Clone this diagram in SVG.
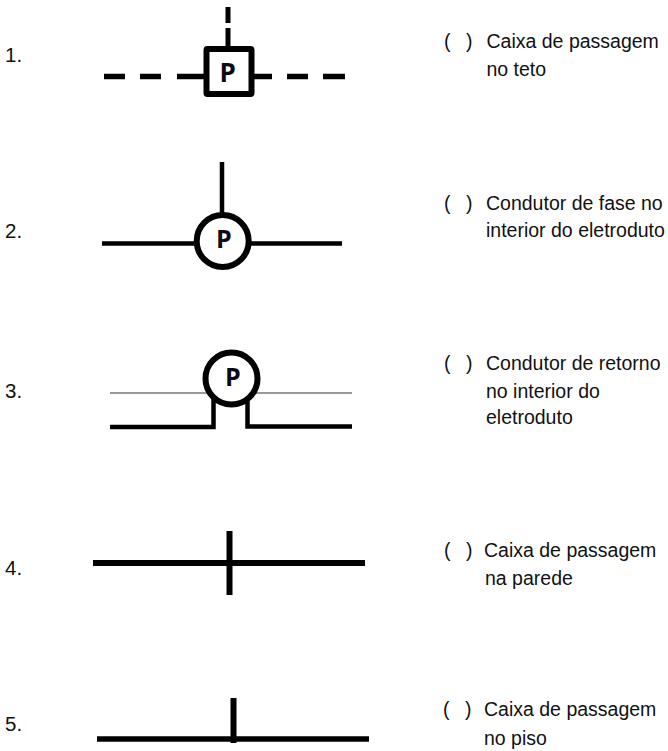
<svg xmlns="http://www.w3.org/2000/svg" width="668" height="751" viewBox="0 0 668 751">
<style>
.t{font-family:"Liberation Sans",Arial,sans-serif;font-size:19.500px;fill:#111}
.n{font-family:"Liberation Sans",Arial,sans-serif;font-size:20.500px;fill:#111}
.p{font-family:"Open Sans","Noto Sans",sans-serif;font-weight:700;fill:#0a0a14}
.l{stroke:#000;fill:none;stroke-width:4.5}
.b{fill:#fff;stroke:#000;stroke-width:6}
</style>
<rect width="668" height="751" fill="#fff"/>
<g id="connectors">
<path class="l" style="stroke-width:5.5" d="M104 76.500H125M140 76.500H161M177 76.500H204M250 76.500H272M287 76.500H308M323 76.500H345"/>
<path class="l" style="stroke-width:5" d="M228 7V23M228 28V46"/>
<path class="l" d="M102 243.500H342M222 162V214"/>
<path d="M110 393H352" stroke="#999" stroke-width="2" fill="none"/>
<path class="l" d="M110 427H213.500V398M247.500 398V426.500H352"/>
<path class="l" style="stroke-width:6" d="M93 563H365M229.500 531V595"/>
<path class="l" style="stroke-width:5.500" d="M97 739H369"/>
<path class="l" style="stroke-width:6" d="M233.500 698V743"/>
</g>
<g id="node1"><text class="n" x="5" y="62">1.</text><rect class="b" x="206.500" y="49" width="45" height="45" rx="1"/><text class="p" x="219.500" y="82" font-size="26">P</text></g>
<g id="node2"><text class="n" x="5" y="238">2.</text><circle class="b" cx="222.700" cy="241" r="26"/><text class="p" x="216" y="248" font-size="25">P</text></g>
<g id="node3"><text class="n" x="5" y="398">3.</text><circle class="b" cx="231.500" cy="378.500" r="26"/><text class="p" x="225" y="386" font-size="25">P</text></g>
<g id="node4"><text class="n" x="5" y="575">4.</text></g>
<g id="node5"><text class="n" x="5" y="731">5.</text></g>
<g id="labels">
<text class="t"><tspan x="444" y="48">(</tspan><tspan x="466" y="48">)</tspan><tspan x="486.500" y="48">Caixa de passagem</tspan><tspan x="486.500" y="76">no teto</tspan></text>
<text class="t"><tspan x="444" y="210">(</tspan><tspan x="466" y="210">)</tspan><tspan x="486" y="210">Condutor de fase no</tspan><tspan x="486" y="237">interior do eletroduto</tspan></text>
<text class="t"><tspan x="444" y="370">(</tspan><tspan x="466" y="370">)</tspan><tspan x="486" y="370">Condutor de retorno</tspan><tspan x="486" y="398">no interior do</tspan><tspan x="486" y="424">eletroduto</tspan></text>
<text class="t"><tspan x="444" y="557">(</tspan><tspan x="466" y="557">)</tspan><tspan x="484" y="557">Caixa de passagem</tspan><tspan x="485" y="585">na parede</tspan></text>
<text class="t"><tspan x="443" y="716">(</tspan><tspan x="465" y="716">)</tspan><tspan x="484" y="716">Caixa de passagem</tspan><tspan x="484" y="745">no piso</tspan></text>
</g>
</svg>
